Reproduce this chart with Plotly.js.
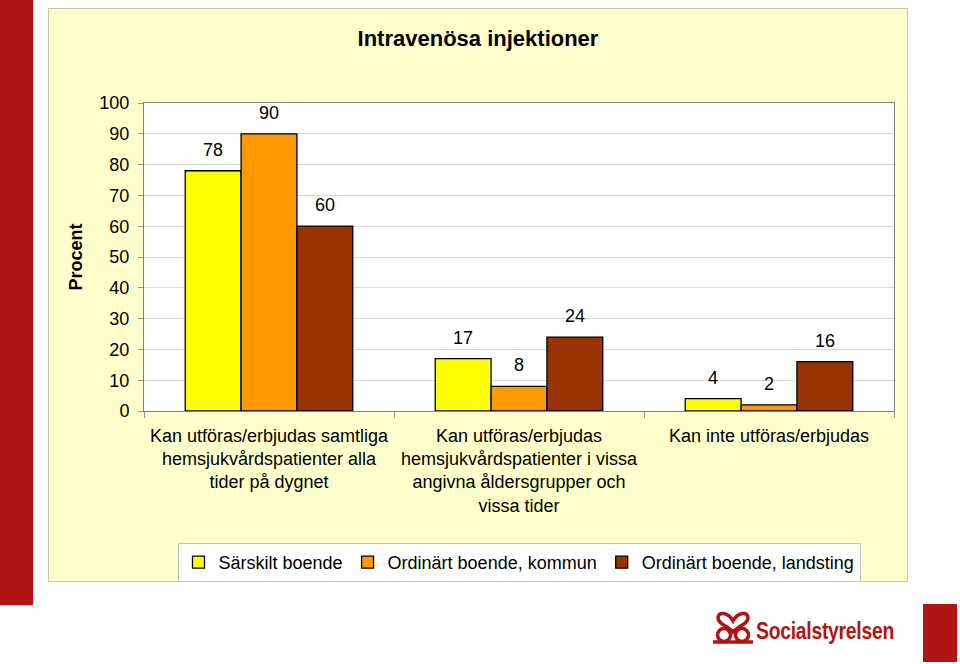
<!DOCTYPE html>
<html>
<head>
<meta charset="utf-8">
<script src="https://cdn.plot.ly/plotly-3.0.1.min.js"></script>
<style>
  html, body { margin:0; padding:0; background:#ffffff; width:960px; height:664px; overflow:hidden; }
  #redbar { position:absolute; left:0; top:0; width:33px; height:605px; background:#B01515; }
  #redsq { position:absolute; left:923px; top:604px; width:34px; height:58px; background:#B01515; }
  #chart { position:absolute; left:48px; top:8px; width:858px; height:572px; border:1px solid #C8C8A8; }
  #logo { position:absolute; left:711px; top:607px; }
  #logotext { position:absolute; left:756px; top:618px; font-family:"Liberation Sans",Arial,sans-serif; font-weight:bold; font-size:23px; color:#B01515; transform:scaleX(0.84); transform-origin:left top; letter-spacing:-0.3px; white-space:nowrap; }
</style>
</head>
<body>
<div id="redbar"></div>
<div id="redsq"></div>
<div id="chart"></div>
<svg id="logo" width="44" height="38" viewBox="0 0 44 38">
  <g fill="none" stroke="#B01515" stroke-width="3.5">
    <path d="M22 14 C17 5 7 4 7 11 C7 17 17 19 22 25 C27 19 37 17 37 11 C37 4 27 5 22 14 Z"/>
    <circle cx="13" cy="28" r="6.5"/>
    <circle cx="31" cy="28" r="6.5"/>
    <path d="M2 35 L42 35"/>
  </g>
</svg>
<div id="logotext">Socialstyrelsen</div>
<script>
const categories = [
  "Kan utföras/erbjudas samtliga<br>hemsjukvårdspatienter alla<br>tider på dygnet",
  "Kan utföras/erbjudas<br>hemsjukvårdspatienter i vissa<br>angivna åldersgrupper och<br>vissa tider",
  "Kan inte utföras/erbjudas"
];
const seriesNames = ["Särskilt boende", "Ordinärt boende, kommun", "Ordinärt boende, landsting"];
const sarskilt = [78, 17, 4];
const ordinarKommun = [90, 8, 2];
const ordinarLandsting = [60, 24, 16];
const seriesColors = ["#FFFF00", "#FF9900", "#993300"];
const yTicks = [0,10,20,30,40,50,60,70,80,90,100];

const FONT = "Liberation Sans, Arial, sans-serif";
const W = 858, H = 572;
const margin = {l: 95, r: 13, t: 94, b: 170};
const bargap = 0.33;

const values = [sarskilt, ordinarKommun, ordinarLandsting];
const traces = values.map((v, i) => ({
  type: "bar",
  name: seriesNames[i],
  x: categories,
  y: v,
  marker: {color: seriesColors[i], line: {color: "#000000", width: 1.3}},
  hoverinfo: "skip"
}));

// value labels placed above each bar (offset within group derived from layout)
const plotW = W - margin.l - margin.r;
const barPx = plotW / categories.length * (1 - bargap) / values.length;
const annotations = [];
values.forEach((v, i) => {
  v.forEach((val, j) => {
    annotations.push({
      x: categories[j], y: val, xref: "x", yref: "y",
      text: String(val), showarrow: false,
      xshift: (i - (values.length - 1) / 2) * barPx,
      yshift: 21, yanchor: "middle", xanchor: "center",
      font: {family: FONT, size: 18, color: "#000"}
    });
  });
});

const layout = {
  width: W, height: H,
  paper_bgcolor: "#FFFFCC",
  plot_bgcolor: "#FFFFFF",
  margin: margin,
  barmode: "group",
  bargap: bargap,
  bargroupgap: 0,
  font: {family: FONT, size: 18, color: "#000"},
  title: {
    text: "<b>Intravenösa injektioner</b>",
    font: {size: 22, family: FONT, color: "#000"},
    x: 0.5, xref: "container", xanchor: "center",
    y: 0.948, yref: "container", yanchor: "middle"
  },
  xaxis: {
    tickson: "boundaries",
    ticks: "outside", ticklen: 6, tickcolor: "#9A9A9A",
    showline: true, linecolor: "#808080", linewidth: 1,
    mirror: true,
    tickfont: {size: 18},
    ticklabelstandoff: 8,
    showgrid: false,
    automargin: false
  },
  yaxis: {
    range: [0, 100],
    tickvals: yTicks,
    ticks: "outside", ticklen: 5, tickcolor: "#9A9A9A",
    showline: true, linecolor: "#808080", linewidth: 1,
    mirror: true,
    gridcolor: "#D9D9D9", gridwidth: 1,
    zeroline: false,
    tickfont: {size: 18},
    ticklabelstandoff: 5,
    automargin: false,
    title: {text: "<b>Procent</b>", font: {size: 18, family: FONT}, standoff: 12}
  },
  legend: {
    orientation: "h",
    x: 0.5, xref: "paper", xanchor: "center",
    y: 1 - 534 / H, yref: "container", yanchor: "top",
    bgcolor: "#FFFFFF",
    bordercolor: "#BFBFBF", borderwidth: 1,
    font: {size: 18},
    traceorder: "normal",
    itemwidth: 30,
    tracegroupgap: 0
  },
  annotations: annotations,
  showlegend: true
};

Plotly.newPlot("chart", traces, layout, {displayModeBar: false, staticPlot: true});
</script>
</body>
</html>
